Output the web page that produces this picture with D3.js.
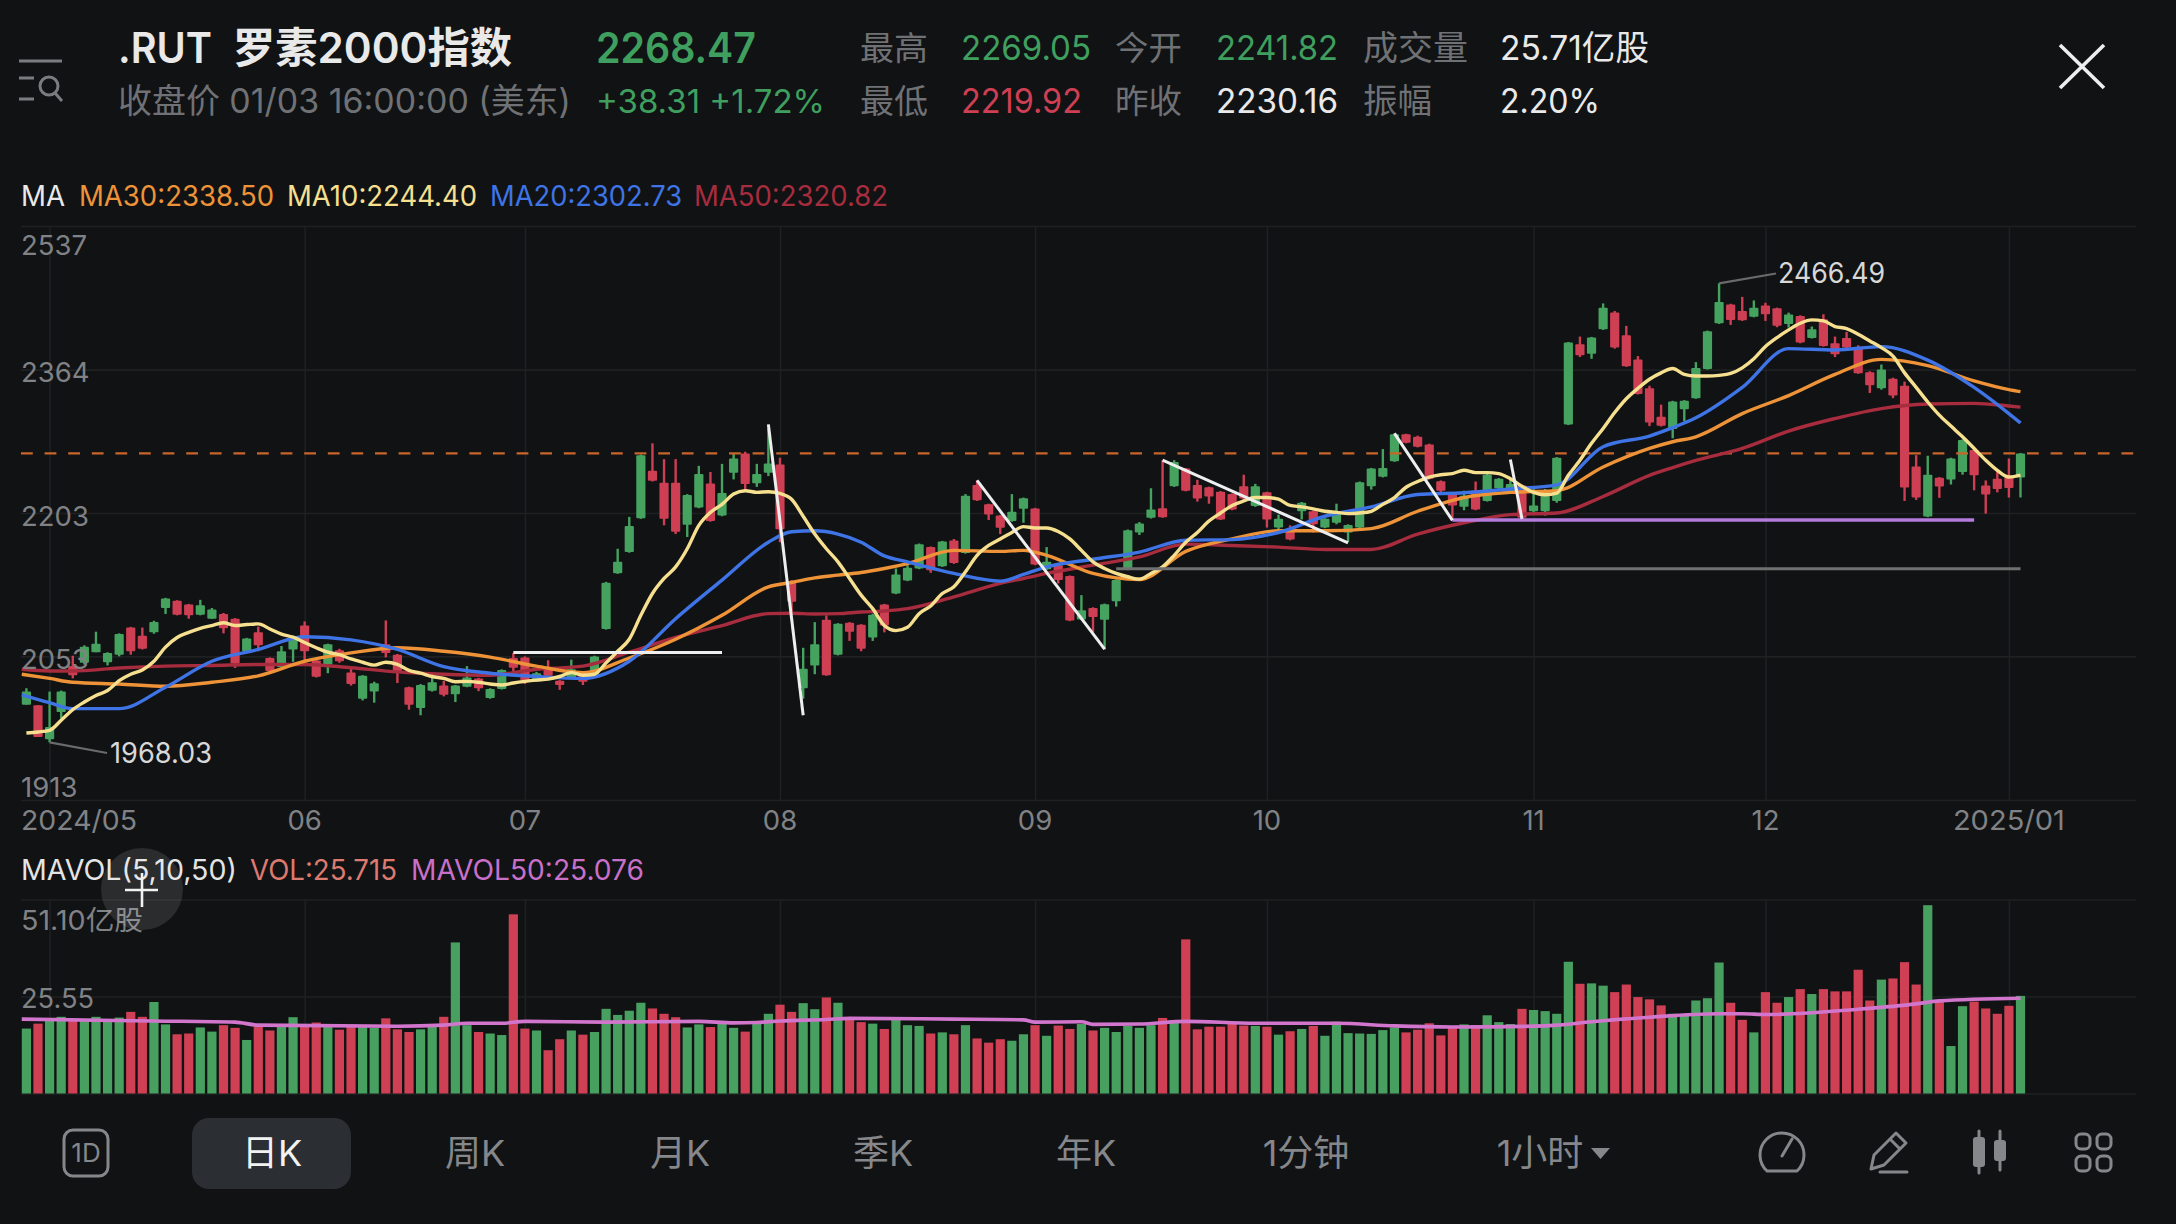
<!DOCTYPE html>
<html><head><meta charset="utf-8">
<style>html,body{margin:0;padding:0;background:#101214}svg{display:block}text{font-family:Inter,"Noto Sans CJK SC",sans-serif;white-space:pre}</style>
<script src="https://cdn.jsdelivr.net/npm/d3@7"></script></head><body>
<script>
const open=[2004.8,2004.2,1971,1997.6,2043.2,2046.5,2057.2,2047.1,2054.7,2082.3,2073.9,2077.4,2102.5,2109.9,2106,2095.6,2091.4,2096.3,2091.4,2058.2,2077.4,2051.4,2042.3,2060,2084.4,2048.8,2044.9,2059.3,2036.7,2010.7,2017.8,2065.2,2054.7,2022.1,2001.6,2018.5,2023.7,2015.2,2022.7,2030.9,2011.3,2020.4,2051.4,2052,2028.6,2042.3,2028.6,2031.8,2033.5,2035.1,2080.9,2138.8,2161.1,2197.4,2249.4,2236,2236,2190.4,2209,2235.2,2200.2,2247.2,2268.5,2235.6,2247.2,2256.2,2129,2021.1,2043.9,2090.3,2054.7,2087.2,2085.1,2072.2,2106,2117.5,2131.1,2143.7,2166.4,2146.1,2173.3,2160.1,2233.7,2212.4,2200.2,2194.3,2207.5,2207.9,2143,2147.2,2135.7,2090.7,2102.5,2090.3,2109.5,2142.6,2182,2197.8,2208.2,2232.2,2251.7,2233.7,2231.1,2226.2,2223.6,2232.2,2210.5,2225.5,2187.3,2184.8,2204.9,2204.9,2187.3,2192.5,2182,2187.3,2232.2,2242.7,2259.9,2289.9,2287.2,2278.6,2237.8,2223.6,2209.7,2227.3,2216.1,2230,2225.5,2232.9,2204.9,2204.9,2216.1,2301.1,2393.6,2382.6,2411.4,2431.2,2404.3,2375.9,2342.3,2309.7,2295.9,2318.3,2331,2364.8,2418.5,2441,2433.1,2426.4,2439.8,2436.3,2417.7,2427.2,2401.1,2423.3,2394.8,2401.1,2389.7,2361,2342.3,2353.5,2345.3,2253.9,2199.3,2241.6,2239.7,2247.9,2272.3,2233,2240.4,2242.3,2241.82];
const high=[2021.1,2004.2,2017.8,2018.8,2053.7,2064.2,2078.1,2057.2,2076.4,2083,2082.3,2089.3,2113,2110.5,2106.7,2110.9,2102.5,2097.3,2092,2071.8,2083.3,2052,2063.5,2073.9,2088.6,2049.7,2065.9,2060.7,2042.6,2034.1,2027.6,2089.6,2055.4,2022.7,2025.3,2032.8,2028.6,2024.3,2043.2,2031.5,2021.1,2040,2056.5,2053,2037.4,2049.1,2029.2,2049.7,2034.1,2053.7,2129.7,2164.6,2198.8,2267.4,2279.8,2262.2,2262.2,2223.6,2254.7,2247.9,2256.9,2268.5,2270.4,2256.9,2296.6,2263.7,2131.5,2061.7,2087.9,2094.9,2086.8,2087.9,2085.8,2096.6,2106.7,2143.7,2147.2,2170.2,2167,2173,2175,2223.6,2238.6,2213.1,2200.9,2223.6,2219.8,2208.6,2166.4,2147.9,2136.4,2115.8,2103.2,2107,2132.2,2185.2,2193.2,2230,2261,2261,2252.4,2239.3,2231.8,2227,2224.3,2244.9,2234.8,2226.2,2201.3,2189.7,2215,2205.6,2197.4,2213.1,2190.8,2237.4,2252.4,2273.4,2291,2290.6,2288.4,2279.4,2238.6,2224.3,2227.3,2237.4,2245.7,2241.2,2240.4,2233.7,2232.2,2229.2,2264.4,2396.4,2402.7,2402.3,2442.2,2433.1,2415.4,2379.8,2345.3,2323.6,2328,2328.8,2372.7,2409.8,2466.49,2441.8,2450.1,2445.8,2443,2437.1,2431.2,2428,2414.6,2429.2,2402.7,2408.2,2392.4,2362.1,2369.9,2354.6,2350.1,2266.6,2265.9,2242.3,2263.7,2284.2,2275.3,2238.6,2250.9,2262.9,2269.05];
const low=[2004.8,1973.2,1968.03,1991.1,2030.9,2044.9,2057.2,2043.9,2053,2054.7,2060,2076,2096.3,2094.9,2091.4,2094.9,2091.4,2076.4,2041.3,2056.5,2058.2,2036.7,2041.6,2047.5,2048.8,2031.8,2036.1,2046.5,2023.7,2009,2006.8,2052,2026.3,1999.9,1994.4,2017.8,2013,2007.4,2022.1,2018.2,2010.7,2019.8,2038.3,2025.3,2027.6,2031.8,2019.5,2030.9,2024.3,2034.4,2080.2,2138.1,2160.4,2196.7,2237.4,2189.7,2180.3,2177.2,2208.2,2193.6,2199.5,2239.7,2228.5,2231.5,2243.4,2171.5,2098.3,2010.7,2035.1,2033.5,2054,2068.7,2058.2,2068.7,2077.4,2116.8,2130.4,2143,2139.2,2145.4,2148.6,2159.4,2216.1,2195.4,2180.3,2193.6,2192.5,2147.2,2142.3,2128,2088.9,2090,2077.4,2060,2103.9,2141.9,2179.3,2197,2197.8,2231.5,2226.6,2215.4,2213.1,2195.4,2206,2218,2209.7,2187.3,2184.8,2173.7,2196,2182,2186.6,2190.8,2171.9,2186.6,2228.5,2241.9,2259.2,2279.8,2275.3,2239.7,2225.5,2197.8,2206,2206,2215.4,2228.5,2224.7,2197,2201.3,2200.2,2214.2,2300.4,2378.6,2376.6,2410.6,2388.5,2367.2,2335.2,2299.2,2298.8,2285.4,2304.8,2330.3,2364,2417.7,2416.5,2421.3,2425.6,2421.3,2413.8,2413.4,2394.8,2400.4,2390.9,2378.6,2386.9,2359.1,2337,2340.8,2331,2216.1,2217.2,2198.5,2219.5,2234.1,2244.9,2227.7,2202.3,2225.5,2219.8,2219.92];
const close=[2017.8,1973.2,1983,2017.8,2034.1,2062.8,2065.9,2056.5,2075.7,2058.2,2060.7,2087.9,2112.3,2095.6,2094.9,2105.3,2100.8,2081.6,2045.8,2071.1,2064.2,2038.3,2058.2,2072.2,2058.2,2032.5,2065.2,2048.1,2025.3,2033.5,2026,2056.5,2038.3,2004.8,2024.3,2027,2014.6,2023.7,2031.8,2021.1,2020.4,2039.3,2041.6,2028.6,2036.1,2033.5,2024.3,2040,2027.6,2053,2128.7,2150.7,2189,2266.6,2238.2,2196.7,2182.8,2222.5,2245.7,2194.3,2224.7,2262.9,2234.8,2245.7,2257.3,2185.4,2108.8,2040.6,2065.2,2034.1,2086.1,2078.1,2060.7,2095.6,2084.4,2137.4,2144.4,2169.5,2141.9,2172.3,2149.6,2221.7,2216.9,2201.3,2187.2,2204.5,2219.1,2147.9,2150.7,2131.5,2089.6,2100.1,2093.1,2106.4,2131.5,2184.5,2191.8,2206.7,2198.5,2259.1,2227.3,2218.7,2221,2196,2206.7,2218.7,2232.2,2196,2196.7,2174.4,2214.2,2190.8,2196.7,2201.3,2190.1,2236.7,2251.7,2252.4,2289.9,2280.5,2276,2240.4,2227.3,2211.2,2221.7,2206.7,2244.9,2240.4,2234.8,2197.8,2211.2,2221.7,2263.7,2395.6,2380.6,2401.5,2437.1,2389.7,2368,2335.9,2303.3,2299.6,2327.3,2328,2366,2409,2443.8,2422.5,2422.1,2437.1,2429.2,2415.4,2428.8,2395.6,2411.4,2391.7,2381.8,2389.7,2359.9,2346,2364,2334,2230.7,2219.8,2244.9,2231.8,2262.9,2283.5,2244.2,2223.2,2229.2,2230.16,2268.47];
const volume=[17.1,18.4,19.1,20.2,19.7,19.1,20.2,19.5,20,21.5,20.2,24.1,18.2,15.6,15.8,17.4,16.3,18,17.3,14.1,17.8,16.6,17.8,20.1,17.8,18.7,18,16.8,17.6,17.8,17.3,19.8,16.9,16.2,16.9,17.6,20.2,39.8,18,16.2,15.8,15.4,47.2,17.1,16.6,11.4,14.3,16.6,15.5,16.2,22.3,20.7,21.8,23.9,22.4,21,20.1,17.4,18.2,17.5,18.5,17.3,16.3,18.3,21,23.4,21.5,23.8,22.2,25.3,23.9,19.8,18.8,18.4,17,19.4,18,17.8,15.8,16.1,15.6,18,14.5,13.4,14.3,13.9,15.6,18,15.2,17.9,17,18.3,16.6,17.3,16.2,17.8,17.3,18,19.9,19.3,40.6,16.9,17.6,17.6,18.5,17.9,17.8,17.6,15.5,16.4,17,17.8,15.2,18.9,15.9,15.8,15.7,16.7,17.4,16.1,16.8,18.5,15.3,17.4,18.2,18,20.6,18.8,18.3,22.3,22,21.7,21,34.7,28.9,29,28.4,26.7,28.7,25.4,24.8,23.2,21,20.9,24.5,25.1,34.5,23.9,19.4,16.1,26.7,23.9,25.4,27.5,26.2,27.5,26.9,26.9,32.6,24.5,30,30.3,34.6,28.7,49.6,24.4,12.5,23,24.2,22.4,21,23.1,25.715];
const ma10=[1977.1,1978.1,1979.7,1989.5,1999.9,2007.4,2013.9,2018.8,2028.6,2035.1,2039.3,2048.1,2062.4,2072.2,2077.4,2081.6,2084.4,2087.2,2084.4,2085.4,2086.1,2080.9,2075.7,2072.5,2067,2061.7,2057.2,2054.7,2050.4,2047.1,2044.2,2047.1,2044.9,2039,2036.1,2032.8,2030.9,2027.6,2027.9,2027,2025.3,2024.3,2026.3,2027.9,2029.2,2030.2,2032.8,2036.7,2034.1,2035.1,2046.5,2058.2,2070.4,2094.9,2117.5,2133.2,2145.4,2164.6,2189.7,2203.7,2212.4,2223.6,2227.3,2225.5,2226.2,2224.3,2218,2199.5,2180.3,2164.6,2150.7,2133.2,2115.8,2101.8,2084.4,2079.2,2082.6,2096.6,2104.6,2117.5,2124.5,2140.2,2157.6,2168.1,2175.1,2182,2188.3,2186.9,2186.9,2183.1,2175.1,2162.9,2150.7,2143.7,2138.5,2135,2132.5,2138.5,2145.4,2157.6,2171.6,2182,2194.3,2203,2211.2,2216.1,2219.8,2219.8,2218,2211.2,2209.7,2207.5,2204.9,2203.7,2202.3,2203,2204.9,2212.4,2219.8,2231.1,2237.4,2242.3,2244.9,2246.1,2249.8,2247.2,2247.2,2246.1,2240.4,2232.2,2225.5,2222.8,2224.7,2244.2,2261,2279.8,2296.6,2314.6,2330.3,2342.3,2352.8,2360.2,2365.2,2358.4,2356.5,2356.5,2357.3,2359.5,2366,2376.6,2390.9,2401.5,2410.6,2418.5,2422.5,2421.3,2414.6,2412.2,2405.5,2397.6,2389.7,2379.8,2360.2,2343.4,2326.6,2311.6,2299.2,2287.2,2274.1,2261,2249.8,2242.3,2244.4];
const maIndex=[-0.4,2,4,8,12,16,20,24,28,32,36,40,44,48,52,56,60,64,66,68,70,72,74,76,80,84,86,88,92,96,100,104,108,112,116,120,124,128,132,136,140,142,144,148,152,156,160,164,168,171,172];
const ma20=[2014.6,2006.8,2000.9,2000.9,2022.1,2048.1,2060,2072.9,2069.7,2060,2042.6,2036.1,2032.8,2030.9,2048.1,2091.4,2131.5,2171.6,2182.8,2183.8,2180.3,2171.6,2157,2150.7,2138.5,2130.4,2137.4,2145.4,2153.5,2161.1,2173.7,2174.4,2182,2199.5,2209.7,2223.2,2225.1,2229.2,2233.7,2276,2288,2297.4,2308.6,2343.4,2388.5,2386.9,2390.9,2375.1,2343.4,2313.4,2302.73];
const ma30=[2035.1,2030.9,2027,2025.3,2023,2027,2033.5,2048.1,2056.5,2061.7,2058.2,2052.3,2043.2,2036.7,2051.4,2070.4,2094.9,2124.5,2129,2133.9,2136.7,2139.5,2143.7,2148.9,2162.9,2161.8,2162.9,2157.6,2138.5,2132.2,2161.8,2175.1,2183.8,2183.8,2186.2,2204.9,2219.8,2225.5,2227.3,2253.5,2274.1,2281.6,2287.2,2313.4,2334,2358.4,2375.9,2368.7,2350.9,2340.8,2338.5];
const ma50=[2040,2038.3,2038.3,2041.3,2043.2,2043.9,2044.9,2044.9,2041.6,2037.4,2035.1,2034.1,2040,2043.2,2057.2,2072.2,2084.4,2096.6,2097,2096.3,2096.6,2098.3,2099.4,2101.8,2114,2128,2133.2,2138.5,2147.2,2155.9,2169.5,2168.1,2166.4,2163.9,2163.9,2180.3,2192.5,2201.3,2203,2221,2244.2,2252.8,2260.7,2274.1,2293.6,2307.8,2319.1,2324.3,2325.1,2322,2320.82];
const mavolIndex=[-0.4,11,18,20,32,36,38,41,43,50,58,61,63,65,69,71,80,86,87,91,92,96,100,106,113,118,123,131,132,135,140,146,148,150,158,163,165,172];
const mavol50=[19.6,19.1,18.8,18,17.7,18,18.5,18.5,19,18.8,19,18.6,18.7,19.1,19.5,19.8,19.6,19.4,18.8,18.9,18.2,18.3,19,18.5,18.5,17.8,17.5,17.8,18,18.9,20.1,21,21,20.8,22.2,23.6,24.4,25.076];
const priceTicks=[2537,2364,2203,2053,1913];
const volTicks=[0,25.55,51.1];
const volTickLabels=["","25.55","51.10亿股"];
const monthIndex=[2,24,43,65,87,107,130,150,171];
const monthLabels=["2024/05","06","07","08","09","10","11","12","2025/01"];
const drawSegments=[[42,2057,60,2057],[64,2301.1,67,1994.4],[82,2238.6,93,2060.3],[98,2261,114,2171],[118,2291,123,2195],[128,2261.8,129,2196.7]];
const purpleLine=[123,168,2195.5];
const grayLine=[94,172,2143.3];
const lastPrice=2268.47;
const tabs=["日K","周K","月K","季K","年K","1分钟","1小时"];

const W=2176,H=1224,bg="#101214",up="#45a35f",dn="#cf3f53",grid="#1e2022";
const svg=d3.select("body").append("svg").attr("width",W).attr("height",H).style("background",bg);
const x=d3.scaleLinear().domain([0,172]).range([26.4,2020.5]);
const y=d3.scaleLog().domain([1913,2537]).range([800,226]);
const yv=d3.scaleLinear().domain([0,51.1]).range([1093.5,899.5]);
const L=21,R=2136;
const idx=d3.range(close.length);
const col=i=>close[i]>=open[i]?up:dn;
function T(px,py,s,size,fill,w,opt){opt=opt||{};const t=svg.append("text").attr("x",px).attr("y",py).attr("font-size",size).attr("fill",fill).attr("font-weight",opt.weight||400).attr("text-anchor",opt.anchor||"start").text(s);if(w)t.attr("textLength",w).attr("lengthAdjust","spacingAndGlyphs");return t;}

// grid through axes
const gx=svg.append("g").attr("transform","translate(0,800)").call(d3.axisBottom(x).tickValues(monthIndex).tickSize(-574).tickFormat(""));
const gv=svg.append("g").attr("transform","translate(0,1093.5)").call(d3.axisBottom(x).tickValues(monthIndex).tickSize(-194).tickFormat(""));
const gy=svg.append("g").attr("transform",`translate(${L},0)`).call(d3.axisRight(y).tickValues(priceTicks).tickSize(R-L).tickFormat(""));
const gyv=svg.append("g").attr("transform",`translate(${L},0)`).call(d3.axisRight(yv).tickValues(volTicks).tickSize(R-L).tickFormat(""));
[gx,gv,gy,gyv].forEach(g=>{g.select(".domain").remove();g.selectAll("line").attr("stroke",grid).attr("stroke-width",1.6);g.selectAll("text").remove();});

// candles
const c=svg.append("g");
c.selectAll("line").data(idx).join("line").attr("x1",i=>x(i)).attr("x2",i=>x(i)).attr("y1",i=>y(high[i])).attr("y2",i=>y(low[i])).attr("stroke",col).attr("stroke-width",2.4);
c.selectAll("rect").data(idx).join("rect").attr("x",i=>x(i)-4.6).attr("width",9.2).attr("y",i=>y(Math.max(open[i],close[i]))).attr("height",i=>Math.max(1.5,Math.abs(y(open[i])-y(close[i])))).attr("rx",1).attr("fill",col);

// last price
svg.append("line").attr("x1",L).attr("x2",R).attr("y1",y(lastPrice)).attr("y2",y(lastPrice)).attr("stroke","#c9652a").attr("stroke-width",2.2).attr("stroke-dasharray","11.8 11.8");

// MA lines
const lineOf=(xs,vals,sy)=>d3.line().x((d,i)=>x(xs[i])).y(d=>sy(d)).curve(d3.curveMonotoneX)(vals);
[[maIndex,ma50,"#a72c3e"],[maIndex,ma30,"#ee9338"],[maIndex,ma20,"#3f74e6"],[idx,ma10,"#f6e08f"]].forEach(([xs,v,cc])=>svg.append("path").attr("d",lineOf(xs,v,y)).attr("fill","none").attr("stroke",cc).attr("stroke-width",3.4).attr("stroke-linejoin","round"));

// drawn lines
svg.append("line").attr("x1",x(grayLine[0])).attr("x2",x(grayLine[1])).attr("y1",y(grayLine[2])).attr("y2",y(grayLine[2])).attr("stroke","#6f7070").attr("stroke-width",3);
svg.append("line").attr("x1",x(purpleLine[0])).attr("x2",x(purpleLine[1])).attr("y1",y(purpleLine[2])).attr("y2",y(purpleLine[2])).attr("stroke","#b57bdc").attr("stroke-width",3.6);
svg.append("g").selectAll("line").data(drawSegments).join("line").attr("x1",d=>x(d[0])).attr("y1",d=>y(d[1])).attr("x2",d=>x(d[2])).attr("y2",d=>y(d[3])).attr("stroke","#eeeeee").attr("stroke-width",3);

// hi/lo annotations
svg.append("line").attr("x1",x(2)).attr("y1",y(1968.03)).attr("x2",107).attr("y2",753).attr("stroke","#6a6a6a").attr("stroke-width",2.2);
svg.append("line").attr("x1",x(146)).attr("y1",y(2466.49)).attr("x2",1776).attr("y2",273.5).attr("stroke","#6a6a6a").attr("stroke-width",2.2);
T(110,763,"1968.03",28,"#d8d8d8",102);
T(1778,283,"2466.49",28,"#d8d8d8",107);

// volume
const v=svg.append("g");
v.selectAll("rect").data(idx).join("rect").attr("x",i=>x(i)-4.6).attr("width",9.2).attr("y",i=>yv(volume[i])).attr("height",i=>yv(0)-yv(volume[i])).attr("fill",i=>close[i]>=open[i]?"#48a060":"#cf4054");
svg.append("path").attr("d",lineOf(mavolIndex,mavol50,yv)).attr("fill","none").attr("stroke","#d276cd").attr("stroke-width",3.6);

// axis labels
const gray="#808285";
const priceBase=[255,382,526,669,797];
priceTicks.forEach((p,i)=>T(21,priceBase[i],String(p),27.5,gray));
monthLabels.forEach((m,i)=>{const first=i==0,last=i==monthLabels.length-1;
 T(first?21:x(monthIndex[i]),830,m,27.5,gray,first?116:(last?112:null),{anchor:first?"start":"middle"});});
T(21,930,volTickLabels[2],27.5,gray,122);
T(21,1008,volTickLabels[1],27.5,gray,73);

// header
const hGray="#6f7174",hGreen="#3f9f5e",hRed="#cf3f53",hWhite="#e9e9e9";
T(118,63,".RUT",42,hWhite,94,{weight:600});
T(233,63,"罗素2000指数",42,hWhite,279,{weight:600});
T(596,63,"2268.47",42,hGreen,160,{weight:600});
T(118,113,"收盘价 01/03 16:00:00 (美东)",34,hGray,453);
T(596,113,"+38.31 +1.72%",33,hGreen,229);
T(860,60,"最高",33.5,hGray,68);T(961,60,"2269.05",34,hGreen,130);
T(860,113,"最低",33.5,hGray,68);T(961,113,"2219.92",34,hRed,121);
T(1115,60,"今开",33.5,hGray,67);T(1216,60,"2241.82",34,hGreen,122);
T(1115,113,"昨收",33.5,hGray,67);T(1216,113,"2230.16",34,hWhite,122);
T(1363,60,"成交量",34.5,hGray,105);T(1500,60,"25.71亿股",34,hWhite,149);
T(1363,113,"振幅",34,hGray,69);T(1500,113,"2.20%",34,hWhite,100);
// legends
T(21,206,"MA",28,"#e9e9e9",44);
T(79,206,"MA30:2338.50",28,"#ee9338",195);
T(287,206,"MA10:2244.40",28,"#f6e08f",190);
T(490,206,"MA20:2302.73",28,"#3f74e6",192);
T(694,206,"MA50:2320.82",28,"#a72c3e",194);
T(21,880,"MAVOL(5,10,50)",28,"#e4e4e4",216);
T(250,880,"VOL:25.715",28,"#dd7a70",147);
T(411,880,"MAVOL50:25.076",28,"#c870c8",233);

// floating cursor
svg.append("circle").attr("cx",142).attr("cy",889).attr("r",41).attr("fill","rgba(255,255,255,0.11)");
svg.append("path").attr("d","M125 890H158M142 873V907").attr("stroke","#f2f2f2").attr("stroke-width",2.6).attr("fill","none");

// top icons
svg.append("path").attr("d","M19 61H62M19 78H34M19 99H34").attr("stroke","#7a7c7f").attr("stroke-width",3).attr("fill","none");
svg.append("circle").attr("cx",49).attr("cy",86).attr("r",9).attr("stroke","#7a7c7f").attr("stroke-width",3).attr("fill","none");
svg.append("path").attr("d","M55 93L62 101").attr("stroke","#7a7c7f").attr("stroke-width",3);
svg.append("path").attr("d","M2060 45L2104 88M2104 45L2060 88").attr("stroke","#eeeeee").attr("stroke-width",3.6).attr("fill","none");

// bottom tabs
svg.append("rect").attr("x",192).attr("y",1118).attr("width",159).attr("height",71).attr("rx",17).attr("fill","#2b2e33");
const tabX=[272,475,680,883,1086,1306,1540];
tabs.forEach((t,i)=>T(tabX[i],1166,t,36,i==0?"#f2f2f2":"#85878a",null,{anchor:"middle"}));
svg.append("path").attr("d","M1591 1148H1610L1600.5 1159Z").attr("fill","#85878a");
const ic="#85878a";
const icon=d=>svg.append("path").attr("d",d).attr("fill","none").attr("stroke",ic).attr("stroke-width",3).attr("stroke-linecap","round").attr("stroke-linejoin","round");
svg.append("rect").attr("x",64).attr("y",1130).attr("width",44).attr("height",46).attr("rx",9).attr("fill","none").attr("stroke",ic).attr("stroke-width",3);
T(86,1162,"1D",26,ic,null,{anchor:"middle"});
icon("M1767 1171A22 22 0 1 1 1797 1171H1767M1782 1156L1792 1139");
icon("M1896 1133L1906 1143L1884 1165L1871 1169L1874 1155ZM1890 1139L1900 1149M1880 1172H1907");
icon("M1979 1131V1173M2000 1131V1170");
svg.append("rect").attr("x",1973).attr("y",1137).attr("width",12).attr("height",30).attr("rx",3).attr("fill",ic);
svg.append("rect").attr("x",1994).attr("y",1140).attr("width",12).attr("height",21).attr("rx",3).attr("fill",ic);
[[2076,1134],[2097,1134],[2076,1156],[2097,1156]].forEach(p=>svg.append("rect").attr("x",p[0]).attr("y",p[1]).attr("width",14).attr("height",15).attr("rx",5).attr("fill","none").attr("stroke",ic).attr("stroke-width",3));
</script></body></html>
